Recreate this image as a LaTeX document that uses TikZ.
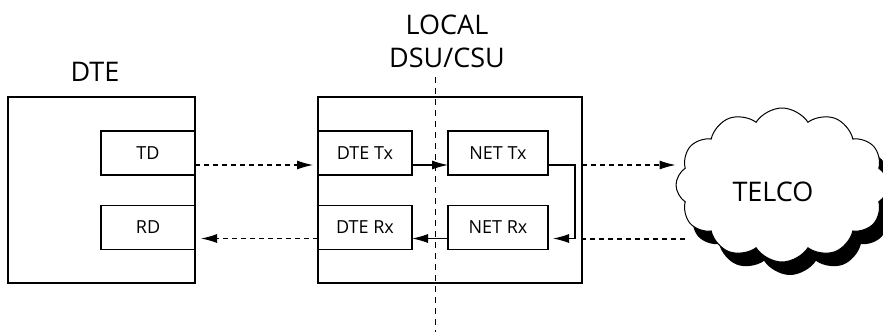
\documentclass[tikz,border=0pt]{standalone}
\usepackage{fontspec}
\setmainfont{Open Sans}
\usetikzlibrary{shapes.symbols,shadows,arrows.meta,calc}
\begin{document}
\begin{tikzpicture}[x=1pt,y=-1pt,
  box/.style={draw,line width=1.1pt,inner sep=0pt,outer sep=0pt},
  inbox/.style={draw,line width=1.1pt,inner sep=0pt,outer sep=0pt,minimum width=94pt,minimum height=44pt,font=\fontsize{18}{20}\selectfont},
  lbl/.style={font=\fontsize{27}{33}\selectfont,inner sep=0pt},
  tip/.style={-{Latex[length=16pt,width=9pt]}},
  dsh/.style={dash pattern=on 5pt off 4pt,line width=1.1pt},
  sol/.style={line width=1.1pt}]
\useasboundingbox (0,0) rectangle (883,332);
\clip (0,0) rectangle (883,332);
% DTE
\node[box,minimum width=187pt,minimum height=186pt] (dte) at (101.5,190) {};
\node[inbox] (td) at (148,153) {TD};
\node[inbox] (rd) at (148,227.5) {RD};
\node[lbl] (dtel) at (95,72) {DTE};
% DSU/CSU
\node[box,minimum width=264pt,minimum height=186pt] (dsu) at (450,190) {};
\node[inbox] (dtetx) at (365,153) {DTE Tx};
\node[inbox,minimum width=100pt] (nettx) at (498,153) {NET Tx};
\node[inbox] (dterx) at (365,227.5) {DTE Rx};
\node[inbox,minimum width=100pt] (netrx) at (498,227.5) {NET Rx};
\node[lbl,align=center] (dsul) at (447,41) {LOCAL\\DSU/CSU};
\coordinate (vtop) at (435,77);
\coordinate (vbot) at (435,332);
\draw[dash pattern=on 6pt off 5pt,line width=0.9pt] (vtop) -- (vbot);
% Cloud
\node[cloud,draw,line width=1pt,fill=white,cloud puffs=12,cloud puff arc=115,aspect=1.4,
  minimum width=212pt,minimum height=154pt,inner sep=0pt,
  drop shadow={shadow xshift=8pt,shadow yshift=-13pt,fill=black,opacity=1}] (telco) at (782,185) {};
\node[lbl] (telcol) at (773,192) {TELCO};
% connectors
\draw[dsh,tip,shorten >=5pt] ($(td.east)+(0,12)$) -- ($(dtetx.west)+(0,12)$);
\draw[dsh,tip,shorten >=6pt] ($(dterx.west)+(0,11)$) -- ($(rd.east)+(0,11)$);
\draw[sol,tip] ($(dtetx.east)+(0,12)$) -- ($(nettx.west)+(0,12)$);
\draw[sol,tip] ($(netrx.west)+(0,11)$) -- ($(dterx.east)+(0,11)$);
\coordinate (turn1) at ($(nettx.east)+(27,12)$);
\coordinate (turn2) at ($(netrx.east)+(27,11)$);
\draw[sol,tip,shorten >=5pt] ($(nettx.east)+(0,12)$) -- (turn1) -- (turn2) -- ($(netrx.east)+(0,11)$);
\draw[dsh,tip] ($(dsu.east)+(0,-25)$) -- (telco.west |- {$(dsu.east)+(0,-25)$});
\draw[dsh] ($(dsu.east)+(103,49)$) -- ($(dsu.east)+(0,49)$);
\end{tikzpicture}
\end{document}
